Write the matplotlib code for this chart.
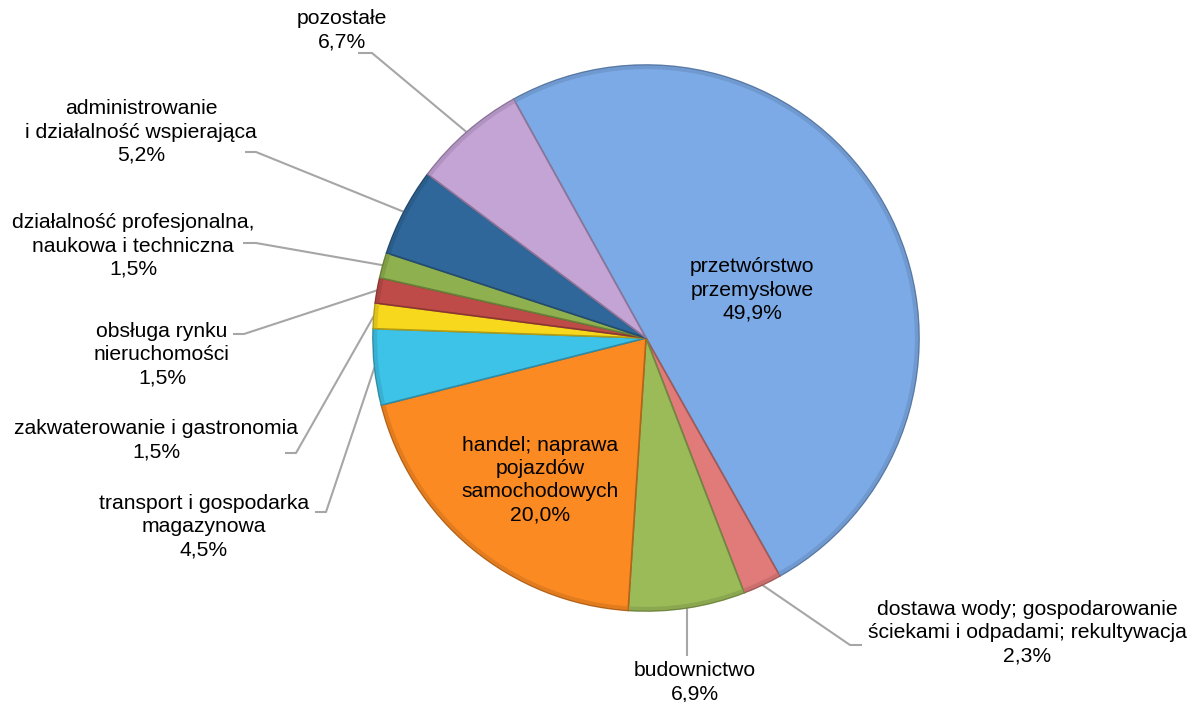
import matplotlib
matplotlib.use("Agg")
import matplotlib.pyplot as plt
import numpy as np
from matplotlib.colors import to_rgb
from matplotlib.patches import Wedge

W, H = 1195, 702

categories = [
    "przetwórstwo\nprzemysłowe",
    "dostawa wody; gospodarowanie\nściekami i odpadami; rekultywacja",
    "budownictwo",
    "handel; naprawa\npojazdów\nsamochodowych",
    "transport i gospodarka\nmagazynowa",
    "zakwaterowanie i gastronomia",
    "obsługa rynku\nnieruchomości",
    "działalność profesjonalna,\nnaukowa i techniczna",
    "administrowanie\ni działalność wspierająca",
    "pozostałe",
]
values = [49.9, 2.3, 6.9, 20.0, 4.5, 1.5, 1.5, 1.5, 5.2, 6.7]
value_labels = ["49,9%", "2,3%", "6,9%", "20,0%", "4,5%", "1,5%", "1,5%", "1,5%", "5,2%", "6,7%"]
colors = ["#7BAAE6", "#E07B79", "#9BBB59", "#FB8A22", "#3EC3E8",
          "#F7D81C", "#BE4B47", "#8FB04E", "#30679A", "#C4A3D5"]

# layout (pixel coords, origin top-left)
cx, cy, R = 646, 338, 273
start_angle = 119
label_pos = [(752, 290), (1027, 633), (695, 682), (540, 480), (204, 527),
             (156, 440), (162, 355), (133, 246), (141, 132), (342, 30)]
inside = [True, False, False, True, False, False, False, False, False, False]
leaders = {
    1: [(862, 645), (850, 645)],
    4: [(315, 512), (326, 512)],
    5: [(285, 453), (296, 453)],
    6: [(233, 334), (244, 334)],
    7: [(243, 243), (256, 243)],
    8: [(245, 152), (256, 152)],
    9: [(358, 53), (372, 53)],
}

plt.rcParams['font.family'] = ['Liberation Sans', 'DejaVu Sans']
fig = plt.figure(figsize=(W / 100, H / 100), dpi=100)
ax = fig.add_axes([0, 0, 1, 1])

def Y(y):
    return H - y

def shade(c, f):
    r, g, b = to_rgb(c)
    if f < 1:
        return (r * f, g * f, b * f)
    t = f - 1
    return (r + (1 - r) * t, g + (1 - g) * t, b + (1 - b) * t)

wedges, _ = ax.pie(values, colors=colors, startangle=start_angle, counterclock=False,
                   center=(cx, Y(cy)), radius=R, frame=True,
                   wedgeprops=dict(linewidth=1.2))
for w, c in zip(wedges, colors):
    w.set_edgecolor(shade(c, 0.72))
    # subtle bevel-like rim shading
    ax.add_patch(Wedge(w.center, w.r - 0.6, w.theta1 + 0.15, w.theta2 - 0.15, width=3.5,
                       facecolor=shade(c, 0.9), edgecolor='none', zorder=w.get_zorder() + 0.1))
ax.set_xlim(0, W)
ax.set_ylim(0, H)
ax.set_aspect('equal')
ax.axis('off')

fs = 15.2
for i, w in enumerate(wedges):
    txt = categories[i] + "\n" + value_labels[i]
    lx, ly = label_pos[i]
    ax.text(lx, Y(ly), txt, ha='center', va='center', fontsize=fs,
            color='black', linespacing=1.27, multialignment='center', zorder=5)
    if inside[i]:
        continue
    mid = np.deg2rad((w.theta1 + w.theta2) / 2)
    ex = cx + R * np.cos(mid)
    ey = Y(cy) + R * np.sin(mid)
    if i == 2:
        xs = [ex, ex]
        ys = [Y(cy) - R - 45, ey]
    else:
        (x0, y0), (x1, y1) = leaders[i]
        xs = [x0, x1, ex]
        ys = [Y(y0), Y(y1), ey]
    ax.plot(xs, ys, color='#A6A6A6', lw=1.5, solid_capstyle='butt', zorder=0.5)

fig.savefig("out.png", dpi=100, facecolor='white')
